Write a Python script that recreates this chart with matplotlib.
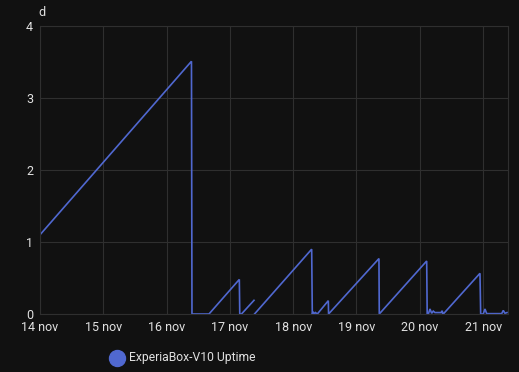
import numpy as np
import matplotlib
matplotlib.use("Agg")
import matplotlib.pyplot as plt
from matplotlib.lines import Line2D

plt.rcParams['font.family'] = ['Roboto', 'DejaVu Sans']

# time in days since 14 nov 00:00, uptime in days (NaN = gap)
t_days = [0.000, 2.393, 2.401, 2.670, 3.149, 3.156, 3.183, 3.381, np.nan,
          3.389, 4.292, 4.302, 4.318, 4.333, 4.352, 4.381, 4.555, 4.559,
          5.355, 5.360, 6.109, 6.117, 6.135, 6.161, 6.188, 6.213, 6.240,
          6.335, 6.355, 6.363, 6.382, 6.951, 6.962, 7.003, 7.030, 7.057,
          7.294, 7.319, 7.346, 7.378]
uptime = [1.10, 3.51, 0.00, 0.00, 0.48, 0.00, 0.00, 0.19, np.nan,
          0.00, 0.90, 0.00, 0.03, 0.00, 0.02, 0.00, 0.185, 0.00,
          0.77, 0.00, 0.736, 0.00, 0.00, 0.07, 0.01, 0.04, 0.02,
          0.02, 0.045, 0.00, 0.01, 0.565, 0.00, 0.00, 0.07, 0.005,
          0.005, 0.05, 0.01, 0.02]
tick_pos = [0, 1, 2, 3, 4, 5, 6, 7]
tick_labels = ["14 nov", "15 nov", "16 nov", "17 nov", "18 nov", "19 nov", "20 nov", "21 nov"]
y_ticks = [0, 1, 2, 3, 4]
series_name = "ExperiaBox-V10 Uptime"
unit = "d"

bg = "#111111"
grid_c = "#2f2f2f"
txt = "#e1e1e1"
line_c = "#5068d0"

fig = plt.figure(figsize=(5.19, 3.72), dpi=100, facecolor=bg)
ax = fig.add_axes([40/519, 1-314/372, (507.7-40)/519, (314-26)/372])
ax.set_facecolor(bg)
ax.plot(t_days, uptime, color=line_c, lw=1.2, solid_joinstyle='miter')
ax.set_xlim(0, 7.389)
ax.set_ylim(0, 4)
ax.set_xticks(tick_pos)
ax.set_xticklabels(tick_labels)
ax.set_yticks(y_ticks)
ax.grid(True, color=grid_c, lw=0.8)
ax.set_axisbelow(True)
for s in ax.spines.values():
    s.set_color(grid_c)
    s.set_linewidth(0.8)
ax.tick_params(length=0, colors=txt, labelsize=9, pad=5)
for lab in ax.get_xticklabels() + ax.get_yticklabels():
    lab.set_color(txt)

fig.text(42/519, 1-12/372, unit, color=txt, fontsize=9, ha='center', va='center')

# legend drawn manually
fig.add_artist(Line2D([116.7/519], [1-357.5/372], marker='o', ls='none', markersize=11.5,
                      markerfacecolor=line_c, markeredgecolor=line_c,
                      transform=fig.transFigure))
fig.text(129.3/519, 1-357.5/372, series_name, color=txt, fontsize=8.75,
         ha='left', va='center')

fig.savefig("out.png", dpi=100, facecolor=bg)
